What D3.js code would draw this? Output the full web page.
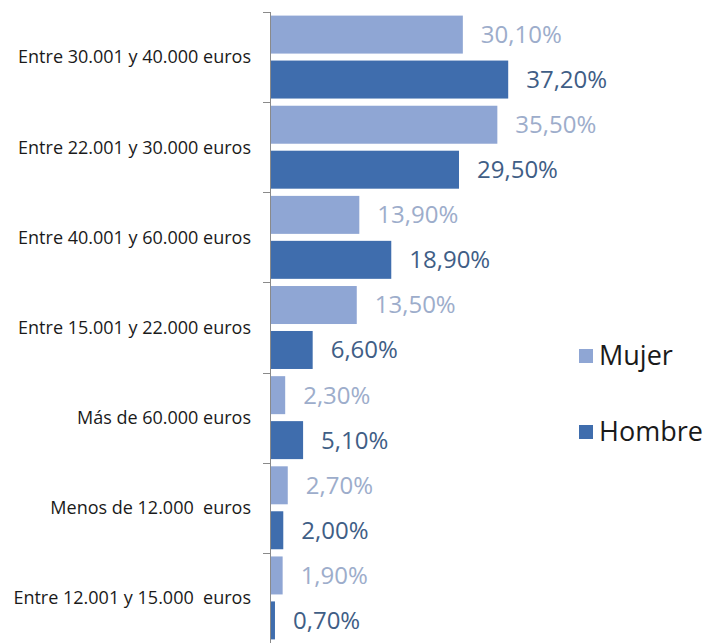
<!DOCTYPE html>
<html>
<head>
<meta charset="utf-8">
<script src="https://cdn.jsdelivr.net/npm/d3@7"></script>
<style>
  html, body { margin: 0; padding: 0; background: #fff; }
  svg { display: block; }
  text { font-family: "Open Sans", "Noto Sans", sans-serif; white-space: pre; }
</style>
</head>
<body>
<svg id="chart" width="707" height="643"></svg>
<script>
const categories = [
  "Entre 30.001 y 40.000 euros",
  "Entre 22.001 y 30.000 euros",
  "Entre 40.001 y 60.000 euros",
  "Entre 15.001 y 22.000 euros",
  "Más de 60.000 euros",
  "Menos de 12.000  euros",
  "Entre 12.001 y 15.000  euros"
];
const seriesNames = ["Mujer", "Hombre"];
const mujer  = [30.1, 35.5, 13.9, 13.5, 2.3, 2.7, 1.9];
const hombre = [37.2, 29.5, 18.9, 6.6, 5.1, 2.0, 0.7];
const colors = ["#8FA6D4", "#3F6DAD"];
const labelColors = ["#9DADCB", "#3F5E86"];

const svg = d3.select("#chart");
const axisX = 270;

const y0 = d3.scaleBand().domain(categories).range([12, 643]).paddingInner(0).paddingOuter(0);
const y1 = d3.scaleBand().domain(seriesNames).range([0, y0.bandwidth()]).paddingInner(0.155).paddingOuter(0.08);
const x = d3.scaleLinear().domain([0, 10]).range([axisX + 0.5, axisX + 0.5 + 63.9]);

const data = categories.map((c, i) => ({ cat: c, vals: [mujer[i], hombre[i]] }));

const fmt = v => d3.format(".2f")(v).replace(".", ",") + "%";

const g = svg.append("g");
const groups = g.selectAll("g.grp").data(data).enter().append("g")
  .attr("transform", d => `translate(0,${y0(d.cat)})`);

groups.selectAll("rect").data(d => d.vals.map((v, k) => ({ s: seriesNames[k], v, k })))
  .enter().append("rect")
  .attr("x", x(0))
  .attr("y", d => y1(d.s))
  .attr("width", d => x(d.v) - x(0))
  .attr("height", y1.bandwidth())
  .attr("fill", d => colors[d.k]);

groups.selectAll("text.val").data(d => d.vals.map((v, k) => ({ s: seriesNames[k], v, k })))
  .enter().append("text")
  .attr("class", "val")
  .attr("x", d => x(d.v) + 18)
  .attr("y", d => y1(d.s) + y1.bandwidth() / 2)
  .attr("dy", "0.35em")
  .attr("font-size", 24)
  .attr("fill", d => labelColors[d.k])
  .text(d => fmt(d.v));

// axis
const axis = d3.axisLeft(y0).tickSize(0).tickPadding(19);
const ax = svg.append("g").attr("transform", `translate(${axisX},0)`).call(axis);
ax.select(".domain").attr("stroke", "#8a8a8a").attr("d", `M0.5,${y0.range()[0]}V${y0.range()[1]}`);
ax.selectAll(".tick text")
  .attr("font-size", 18)
  .attr("font-family", "Open Sans, Noto Sans, sans-serif")
  .attr("fill", "#1a1a1a")
  .attr("dy", "0.35em")
  .attr("dx", "0");
// boundary ticks between categories
const bounds = categories.map(c => y0(c));
ax.selectAll("line.bnd").data(bounds).enter().append("line")
  .attr("class", "bnd")
  .attr("x1", -7).attr("x2", 0.5)
  .attr("y1", d => Math.round(d) + 0.5).attr("y2", d => Math.round(d) + 0.5)
  .attr("stroke", "#8a8a8a");

// legend
const legend = svg.append("g");
const legY = [356, 432];
seriesNames.forEach((s, k) => {
  legend.append("rect")
    .attr("x", 579).attr("y", legY[k] - 7).attr("width", 14).attr("height", 14)
    .attr("fill", colors[k]);
  legend.append("text")
    .attr("x", 599).attr("y", legY[k])
    .attr("dy", "0.35em")
    .attr("font-size", 27)
    .attr("fill", "#1a1a1a")
    .text(s);
});
</script>
</body>
</html>
